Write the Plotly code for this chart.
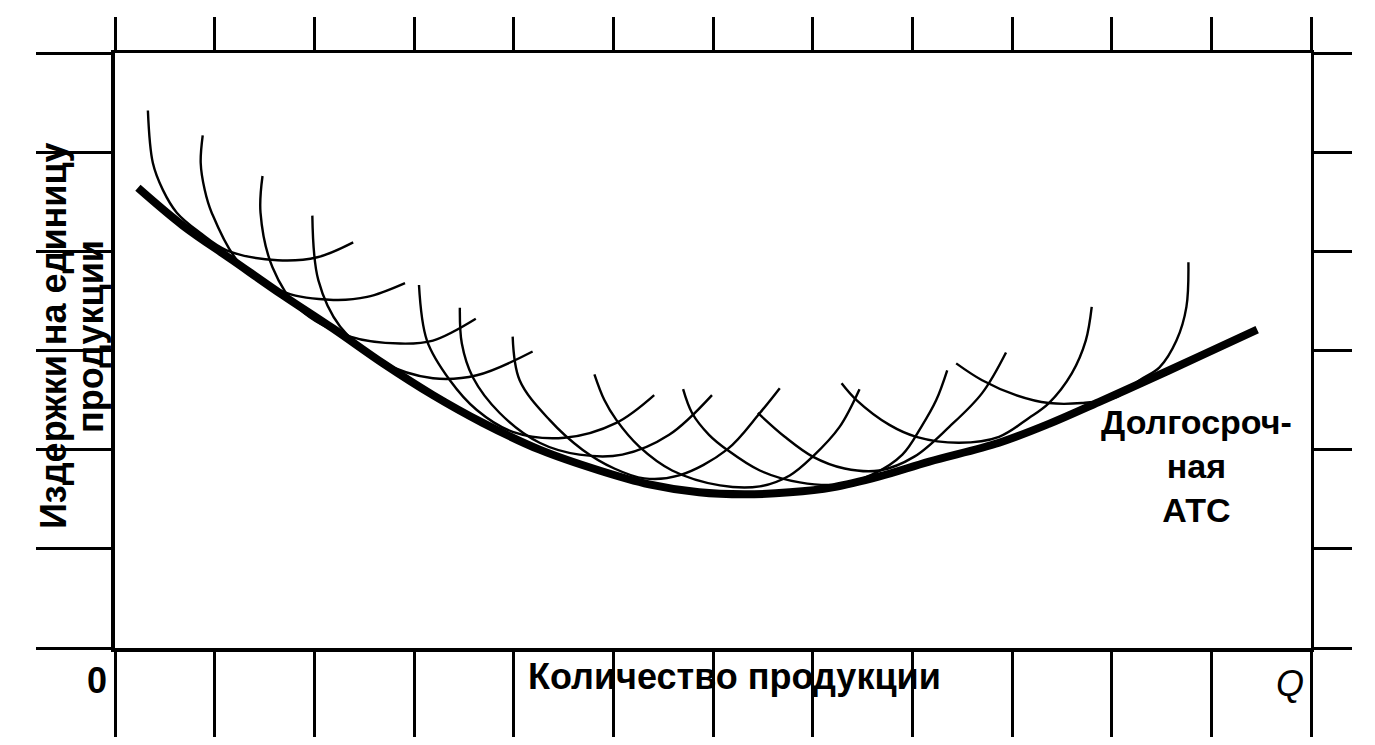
import plotly.graph_objects as go

# ---------------- data ----------------
# Long-run average total cost curve (quantity, cost)
lratc_q = [0.23, 0.68, 1.18, 1.68, 2.19, 2.69, 3.19, 3.69, 4.26, 4.86, 5.36, 5.86,
           6.32, 6.77, 7.20, 7.67, 8.17, 8.87, 9.37, 9.87, 10.38, 10.88, 11.46]
lratc_c = [4.64, 4.26, 3.91, 3.56, 3.22, 2.87, 2.55, 2.27, 2.00, 1.79, 1.65, 1.57,
           1.55, 1.57, 1.62, 1.73, 1.88, 2.07, 2.26, 2.48, 2.71, 2.94, 3.21]

# Short-run ATC arcs
arc01_q = [0.33, 0.38, 0.48, 0.62, 0.85, 1.12, 1.63, 2.03, 2.39]
arc01_c = [5.42, 4.89, 4.62, 4.39, 4.19, 4.01, 3.91, 3.94, 4.09]
arc02_q = [0.88, 0.86, 0.90, 0.97, 1.25, 1.72, 2.19, 2.53, 2.91]
arc02_c = [5.17, 4.89, 4.62, 4.39, 3.88, 3.58, 3.51, 3.54, 3.68]
arc03_q = [1.48, 1.46, 1.58, 1.85, 2.36, 2.86, 3.19, 3.62]
arc03_c = [4.76, 4.39, 3.84, 3.42, 3.14, 3.07, 3.10, 3.32]
arc04_q = [1.98, 2.04, 2.26, 2.69, 3.19, 3.63, 4.19]
arc04_c = [4.36, 3.71, 3.24, 2.88, 2.72, 2.75, 2.99]
arc05_q = [3.05, 3.13, 3.36, 3.63, 3.99, 4.51, 5.03, 5.41]
arc05_c = [3.66, 3.10, 2.70, 2.40, 2.18, 2.12, 2.27, 2.55]
arc06_q = [3.46, 3.48, 3.59, 3.86, 4.26, 4.66, 5.09, 5.56, 5.99]
arc06_c = [3.43, 3.07, 2.73, 2.37, 2.07, 1.95, 1.95, 2.15, 2.55]
arc07_q = [3.99, 4.06, 4.36, 4.69, 5.01, 5.31, 5.66, 6.14, 6.47, 6.67]
arc07_c = [3.14, 2.70, 2.30, 2.00, 1.81, 1.71, 1.74, 2.00, 2.37, 2.62]
arc08_q = [4.81, 4.91, 5.03, 5.26, 5.59, 6.07, 6.47, 6.77, 7.00, 7.27, 7.47]
arc08_c = [2.76, 2.50, 2.30, 2.03, 1.79, 1.64, 1.63, 1.74, 1.93, 2.23, 2.61]
arc09_q = [5.70, 5.79, 5.96, 6.14, 6.47, 6.87, 7.27, 7.60, 7.90, 8.09, 8.24, 8.35]
arc09_c = [2.61, 2.37, 2.15, 2.00, 1.79, 1.67, 1.65, 1.75, 1.95, 2.23, 2.50, 2.80]
arc10_q = [6.45, 6.72, 7.00, 7.32, 7.67, 8.02, 8.37, 8.70, 8.94]
arc10_c = [2.37, 2.13, 1.93, 1.81, 1.79, 1.93, 2.23, 2.57, 2.98]
arc11_q = [7.29, 7.44, 7.77, 8.04, 8.47, 8.87, 9.17, 9.37, 9.60, 9.74, 9.80]
arc11_c = [2.67, 2.50, 2.25, 2.13, 2.07, 2.13, 2.32, 2.47, 2.77, 3.10, 3.44]
arc12_q = [8.44, 8.70, 9.04, 9.37, 9.70, 10.05, 10.28, 10.48, 10.65, 10.75, 10.77]
arc12_c = [2.87, 2.70, 2.55, 2.47, 2.47, 2.53, 2.70, 2.83, 3.10, 3.44, 3.89]

x_ticks = list(range(0, 13))
y_ticks = list(range(0, 7))

x_title = "Количество продукции"
y_title_1 = "Издержки на единицу"
y_title_2 = "продукции"
curve_label = ["Долгосроч-", "ная", "АТС"]

arcs = [(arc01_q, arc01_c), (arc02_q, arc02_c), (arc03_q, arc03_c), (arc04_q, arc04_c),
        (arc05_q, arc05_c), (arc06_q, arc06_c), (arc07_q, arc07_c), (arc08_q, arc08_c),
        (arc09_q, arc09_c), (arc10_q, arc10_c), (arc11_q, arc11_c), (arc12_q, arc12_c)]

# ---------------- figure ----------------
FONT = "Liberation Sans, Arial, Helvetica, sans-serif"
W, H = 1375, 745
PL, PR, PT, PB = 115, 1311, 53, 648   # plot-area frame in pixels

fig = go.Figure()
for q, c in arcs:
    fig.add_trace(go.Scatter(x=q, y=c, mode="lines",
                             line=dict(color="black", width=2.4, shape="spline", smoothing=1.0),
                             hoverinfo="skip"))
fig.add_trace(go.Scatter(x=lratc_q, y=lratc_c, mode="lines",
                         line=dict(color="black", width=8, shape="spline", smoothing=1.0),
                         hoverinfo="skip"))
# helper trace so the mirrored top/right axes are drawn
fig.add_trace(go.Scatter(x=[0], y=[0], xaxis="x2", yaxis="y2", mode="markers",
                         marker=dict(opacity=0), hoverinfo="skip"))

common = dict(showgrid=False, zeroline=False, showticklabels=False, ticks="outside",
              tickcolor="black", tickwidth=3, linecolor="black", showline=True,
              tickmode="array", fixedrange=True)

fig.update_layout(
    width=W, height=H,
    margin=dict(l=PL, r=W - PR, t=PT, b=H - PB, pad=0),
    plot_bgcolor="white", paper_bgcolor="white",
    showlegend=False,
    font=dict(family=FONT, color="black"),
    xaxis=dict(range=[0, 12], tickvals=x_ticks, ticklen=85, linewidth=4, **common),
    xaxis2=dict(range=[0, 12], tickvals=x_ticks, ticklen=33, linewidth=3,
                overlaying="x", side="top", **common),
    yaxis=dict(range=[0, 6], tickvals=y_ticks, ticklen=75, linewidth=4, **common),
    yaxis2=dict(range=[0, 6], tickvals=y_ticks, ticklen=38, linewidth=3,
                overlaying="y", side="right", **common),
)


def px(xp):
    return (xp - PL) / (PR - PL)


def py(yp):
    return (PB - yp) / (PB - PT)


def note(text, xp, yp, size=36, angle=0):
    fig.add_annotation(text=text, x=px(xp), y=py(yp), xref="paper", yref="paper",
                       xanchor="center", yanchor="middle", showarrow=False, align="center",
                       textangle=angle, font=dict(family=FONT, size=size, color="black"))


note("<b>0</b>", 97, 680)
note("<i>Q</i>", 1290, 683)
note("<b>" + x_title + "</b>", 734, 676)
note("<b>" + y_title_1 + "</b>", 53, 336, angle=-90)
note("<b>" + y_title_2 + "</b>", 90, 337, angle=-90)
note("<b>" + "<br>".join(curve_label) + "</b>", 1196, 466, size=34)

fig.write_html("out.html", config={"displayModeBar": False},
               post_script="document.body.style.margin='0';")
